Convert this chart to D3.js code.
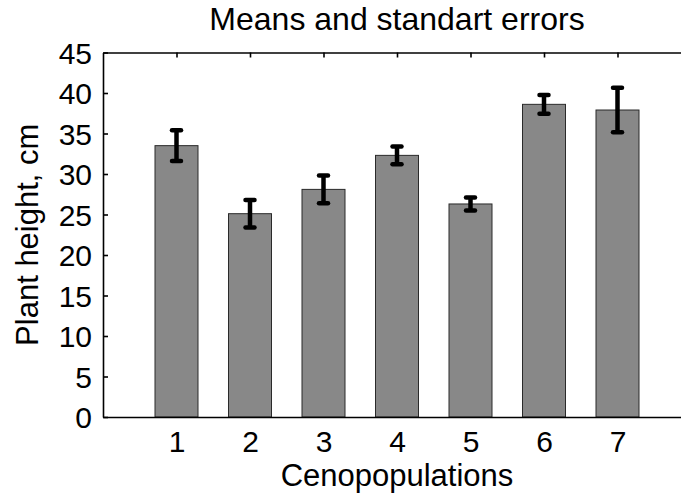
<!DOCTYPE html>
<html>
<head>
<meta charset="utf-8">
<script src="https://cdn.jsdelivr.net/npm/d3@7"></script>
<style>
  body { margin: 0; background: #fff; }
  svg { display: block; font-family: "Liberation Sans", Arial, sans-serif; }
</style>
</head>
<body>
<div id="chart"></div>
<script>
// values
const populations = [1, 2, 3, 4, 5, 6, 7];
const means = [33.5, 25.1, 28.1, 32.3, 26.3, 38.6, 37.9];
const stdErrors = [1.9, 1.7, 1.7, 1.1, 0.8, 1.15, 2.75];
const yTicks = [0, 5, 10, 15, 20, 25, 30, 35, 40, 45];

const data = populations.map((p, i) => ({ pop: p, mean: means[i], se: stdErrors[i] }));

const svgWidth = 681;
const svgHeight = 494;
const margin = { top: 52.5, right: -10, bottom: 77, left: 103 };
const width = svgWidth - margin.left - margin.right;
const height = svgHeight - margin.top - margin.bottom;

const svg = d3.select('#chart')
    .append('svg')
    .attr('width', svgWidth)
    .attr('height', svgHeight);

const g = svg.append('g')
    .attr('transform', `translate(${margin.left},${margin.top})`);

const xScale = d3.scaleLinear().domain([0, 8]).range([0, width]);
const yScale = d3.scaleLinear().domain([0, 45]).range([height, 0]);
const barW = (xScale(1) - xScale(0)) * 0.585;

// bars
g.selectAll('rect.bar')
    .data(data)
    .enter()
    .append('rect')
    .attr('class', 'bar')
    .attr('x', d => xScale(d.pop) - barW / 2)
    .attr('y', d => yScale(d.mean))
    .attr('width', barW)
    .attr('height', d => yScale(0) - yScale(d.mean))
    .attr('fill', '#888888')
    .attr('stroke', '#2a2a2a')
    .attr('stroke-width', 1);

// error bars
const err = g.selectAll('g.err')
    .data(data)
    .enter()
    .append('g')
    .attr('class', 'err');

err.append('line')
    .attr('x1', d => xScale(d.pop))
    .attr('x2', d => xScale(d.pop))
    .attr('y1', d => yScale(d.mean - d.se))
    .attr('y2', d => yScale(d.mean + d.se))
    .attr('stroke', '#000')
    .attr('stroke-width', 4.5);

[-1, 1].forEach(s => {
    err.append('line')
        .attr('x1', d => xScale(d.pop) - 4.5)
        .attr('x2', d => xScale(d.pop) + 4.5)
        .attr('y1', d => yScale(d.mean + s * d.se))
        .attr('y2', d => yScale(d.mean + s * d.se))
        .attr('stroke', '#000')
        .attr('stroke-width', 4.5)
        .attr('stroke-linecap', 'round');
});

// axes box (ticks pointing inward)
const axisStyle = sel => {
    sel.select('.domain').attr('stroke', '#000').attr('stroke-width', 1.6);
    sel.selectAll('.tick line').attr('stroke', '#000').attr('stroke-width', 1.6);
    sel.selectAll('.tick text').attr('fill', '#000').style('font-size', '30px');
};

g.append('g')
    .call(d3.axisLeft(yScale).tickValues(yTicks).tickSizeInner(-5).tickSizeOuter(0).tickPadding(11))
    .call(axisStyle)
    .call(a => a.selectAll('.tick text').attr('dy', '0.36em'));

g.append('g')
    .call(d3.axisTop(xScale).tickValues(populations).tickSizeInner(-5).tickSizeOuter(0).tickFormat(''))
    .call(axisStyle);

g.append('g')
    .attr('transform', `translate(${width},0)`)
    .call(d3.axisRight(yScale).tickValues(yTicks).tickSizeInner(-5).tickSizeOuter(0).tickFormat(''))
    .call(axisStyle);

const xAxis = g.append('g')
    .attr('transform', `translate(0,${height})`)
    .call(d3.axisBottom(xScale).tickValues(populations).tickSizeInner(0).tickSizeOuter(0).tickPadding(14))
    .call(axisStyle);
xAxis.selectAll('.tick text').attr('dy', '0.71em');

// labels
svg.append('text')
    .attr('x', margin.left + width / 2)
    .attr('y', 30)
    .attr('text-anchor', 'middle')
    .style('font-size', '32px')
    .text('Means and standart errors');

svg.append('text')
    .attr('x', margin.left + width / 2)
    .attr('y', 486)
    .attr('text-anchor', 'middle')
    .style('font-size', '31px')
    .text('Cenopopulations');

svg.append('text')
    .attr('transform', `translate(38,${margin.top + height / 2}) rotate(-90)`)
    .attr('text-anchor', 'middle')
    .style('font-size', '31px')
    .text('Plant height, cm');
</script>
</body>
</html>
